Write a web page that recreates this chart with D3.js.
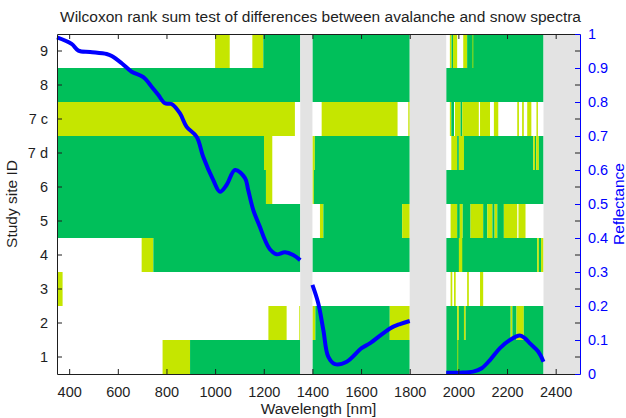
<!DOCTYPE html>
<html>
<head>
<meta charset="utf-8">
<script src="https://cdn.jsdelivr.net/npm/d3@7"></script>
<style>
body { margin: 0; background: #fff; }
svg text { font-family: "Liberation Sans", Arial, Helvetica, sans-serif; }
</style>
</head>
<body>
<div id="chart"></div>
<script>
// rows of the chart, top to bottom
var siteIds = ["9", "8", "7 c", "7 d", "6", "5", "4", "3", "2", "1"];
var xTicks = [400, 600, 800, 1000, 1200, 1400, 1600, 1800, 2000, 2200, 2400];
var reflTicks = [0, 0.1, 0.2, 0.3, 0.4, 0.5, 0.6, 0.7, 0.8, 0.9, 1];

// water absorption bands (no test)
var gapBands = [[1350, 1400], [1800, 1950], [2350, 2500]];

// significant spans per site: [from nm, to nm, level]  g = strong, y = weak
var site9 = [[1000, 1060, "y"], [1153, 1198, "y"], [1198, 1350, "g"], [1400, 1800, "g"],
    [1965, 1972, "y"], [1972, 1978, "g"], [1978, 1995, "y"], [2020, 2036, "y"], [2036, 2350, "g"], [2058, 2061, "y"]];
var site8 = [[350, 1350, "g"], [1400, 1800, "g"], [1950, 2350, "g"]];
var site7c = [[350, 1328, "y"], [1438, 1750, "y"], [1794, 1800, "y"],
    [1965, 1971, "y"], [1971, 1982, "g"], [1986, 2009, "y"], [2009, 2016, "g"], [2016, 2084, "y"],
    [2089, 2130, "y"], [2146, 2164, "y"], [2242, 2249, "y"], [2262, 2269, "y"], [2283, 2300, "y"], [2321, 2327, "y"]];
var site7d = [[350, 1201, "g"], [1201, 1235, "y"], [1400, 1410, "y"], [1410, 1800, "g"],
    [1971, 1995, "y"], [1995, 2002, "g"], [2002, 2023, "y"], [2023, 2308, "g"], [2308, 2315, "y"],
    [2315, 2320, "g"], [2320, 2331, "y"], [2331, 2350, "g"]];
var site6 = [[350, 1209, "g"], [1209, 1235, "y"], [1400, 1406, "y"], [1406, 1800, "g"], [1950, 2350, "g"]];
var site5 = [[350, 1350, "g"], [1431, 1445, "y"], [1445, 1769, "g"], [1769, 1800, "y"],
    [1968, 1995, "y"], [1995, 2006, "g"], [2006, 2018, "y"], [2018, 2050, "g"], [2050, 2102, "y"],
    [2102, 2119, "g"], [2119, 2140, "y"], [2140, 2149, "g"], [2149, 2160, "y"], [2160, 2187, "g"],
    [2187, 2242, "y"], [2247, 2276, "y"]];
var site4 = [[698, 746, "y"], [746, 1350, "g"], [1400, 1800, "g"], [1950, 2324, "g"], [2002, 2016, "y"],
    [2324, 2331, "y"], [2331, 2340, "g"], [2340, 2350, "y"]];
var site3 = [[350, 373, "y"], [1968, 1975, "y"], [1982, 1989, "y"], [2036, 2043, "y"], [2089, 2102, "y"]];
var site2 = [[1219, 1294, "y"], [1346, 1350, "y"], [1400, 1412, "y"], [1412, 1718, "g"], [1718, 1800, "y"],
    [1950, 1995, "g"], [1995, 2002, "y"], [2002, 2023, "g"], [2023, 2030, "y"], [2030, 2215, "g"],
    [2215, 2222, "y"], [2222, 2239, "g"], [2239, 2269, "y"], [2269, 2350, "g"]];
var site1 = [[350, 354, "y"], [784, 897, "y"], [897, 1350, "g"], [1400, 1800, "g"], [1950, 2350, "g"], [1996, 1999, "y"]];

// mean snow spectrum (null = gap)
var specWl = [350, 410, 438, 486, 554, 575, 616, 657, 705, 739, 766, 794, 821, 855, 883, 924, 951, 992, 1020, 1047,
    1082, 1123, 1136, 1157, 1184, 1205, 1225, 1253, 1287, 1321, 1350, 1375,
    1400, 1424, 1445, 1465, 1493, 1541, 1602, 1636, 1719, 1760, 1800, 1875,
    1950, 2006, 2061, 2096, 2130, 2171, 2212, 2253, 2274, 2294, 2328, 2350];
var specRefl = [0.99, 0.971, 0.951, 0.947, 0.941, 0.935, 0.914, 0.889, 0.873, 0.845, 0.821, 0.796, 0.794, 0.767, 0.727, 0.698, 0.639, 0.571, 0.536, 0.556,
    0.600, 0.576, 0.541, 0.482, 0.433, 0.394, 0.367, 0.352, 0.358, 0.350, 0.335, null,
    0.262, 0.208, 0.129, 0.051, 0.029, 0.036, 0.076, 0.090, 0.134, 0.147, 0.156, null,
    0.004, 0.004, 0.007, 0.017, 0.041, 0.076, 0.100, 0.113, 0.105, 0.090, 0.066, 0.036];

var siteSpans = [site9, site8, site7c, site7d, site6, site5, site4, site3, site2, site1];

var width = 626, height = 418;
var margin = { top: 34, right: 46, bottom: 44, left: 57 };
var green = "#00bf5a", yellow = "#c5e600", grey = "#e3e3e3", blue = "#0000ff", ink = "#1e1e1e";

var svg = d3.select("#chart").append("svg")
    .attr("width", width)
    .attr("height", height);

var x = d3.scaleLinear().domain([350, 2500]).range([margin.left, width - margin.right]);
var y = d3.scaleBand().domain(siteIds).range([margin.top, height - margin.bottom]).padding(0);
var r = d3.scaleLinear().domain([0, 1]).range([height - margin.bottom, margin.top]);

// significance bars
siteIds.forEach(function (id, i) {
    svg.append("g").selectAll("rect")
        .data(siteSpans[i])
        .enter().append("rect")
        .attr("x", function (d) { return x(d[0]); })
        .attr("width", function (d) { return Math.max(x(d[1]) - x(d[0]), 0.8); })
        .attr("y", y(id))
        .attr("height", y.bandwidth())
        .attr("fill", function (d) { return d[2] == "g" ? green : yellow; });
});

// masked bands
svg.append("g").selectAll("rect")
    .data(gapBands)
    .enter().append("rect")
    .attr("x", function (d) { return x(d[0]); })
    .attr("width", function (d) { return x(d[1]) - x(d[0]); })
    .attr("y", margin.top)
    .attr("height", height - margin.top - margin.bottom)
    .attr("fill", grey);

// spectrum
var specPts = specWl.map(function (w, i) { return [w, specRefl[i]]; });
var line = d3.line()
    .defined(function (d) { return d[1] != null; })
    .x(function (d) { return x(d[0]); })
    .y(function (d) { return r(d[1]); })
    .curve(d3.curveCatmullRom.alpha(0.5));

svg.append("path")
    .datum(specPts)
    .attr("d", line)
    .attr("fill", "none")
    .attr("stroke", blue)
    .attr("stroke-width", 4)
    .attr("stroke-linejoin", "round");

// axes (ticks point inward)
var fs = "14.5px", fsTitle = "15.5px";
var xb = svg.append("g")
    .attr("transform", "translate(0," + (height - margin.bottom) + ")")
    .style("color", ink)
    .call(d3.axisBottom(x).tickValues(xTicks).tickSizeInner(-5).tickSizeOuter(0).tickPadding(13)
        .tickFormat(d3.format("d")));
var xt = svg.append("g")
    .attr("transform", "translate(0," + margin.top + ")")
    .style("color", ink)
    .call(d3.axisTop(x).tickValues(xTicks).tickSizeInner(-5).tickSizeOuter(0).tickFormat(""));
var yl = svg.append("g")
    .attr("transform", "translate(" + margin.left + ",0)")
    .style("color", ink)
    .call(d3.axisLeft(y).tickSizeInner(-5).tickSizeOuter(0).tickPadding(9));
var yr = svg.append("g")
    .attr("transform", "translate(" + (width - margin.right) + ",0)")
    .style("color", ink)
    .call(d3.axisRight(y).tickSizeInner(-5).tickSizeOuter(0).tickFormat(""));
var rr = svg.append("g")
    .attr("transform", "translate(" + (width - margin.right) + ",0)")
    .style("color", blue)
    .call(d3.axisRight(r).tickValues(reflTicks).tickSizeInner(-5).tickSizeOuter(0).tickPadding(8)
        .tickFormat(d3.format("")));

svg.selectAll(".tick text").style("font-size", fs);
yr.select(".domain").remove();

// titles
svg.append("text")
    .attr("x", (margin.left + width - margin.right) / 2 + 2)
    .attr("y", 22)
    .attr("text-anchor", "middle")
    .style("font-size", fsTitle)
    .attr("fill", ink)
    .text("Wilcoxon rank sum test of differences between avalanche and snow spectra");

svg.append("text")
    .attr("x", (margin.left + width - margin.right) / 2)
    .attr("y", 414)
    .attr("text-anchor", "middle")
    .style("font-size", fsTitle)
    .attr("fill", ink)
    .text("Wavelength [nm]");

svg.append("text")
    .attr("transform", "translate(17," + (margin.top + (height - margin.top - margin.bottom) / 2) + ") rotate(-90)")
    .attr("text-anchor", "middle")
    .style("font-size", fsTitle)
    .attr("fill", ink)
    .text("Study site ID");

svg.append("text")
    .attr("transform", "translate(624," + (margin.top + (height - margin.top - margin.bottom) / 2) + ") rotate(-90)")
    .attr("text-anchor", "middle")
    .style("font-size", fsTitle)
    .attr("fill", blue)
    .text("Reflectance");
</script>
</body>
</html>
